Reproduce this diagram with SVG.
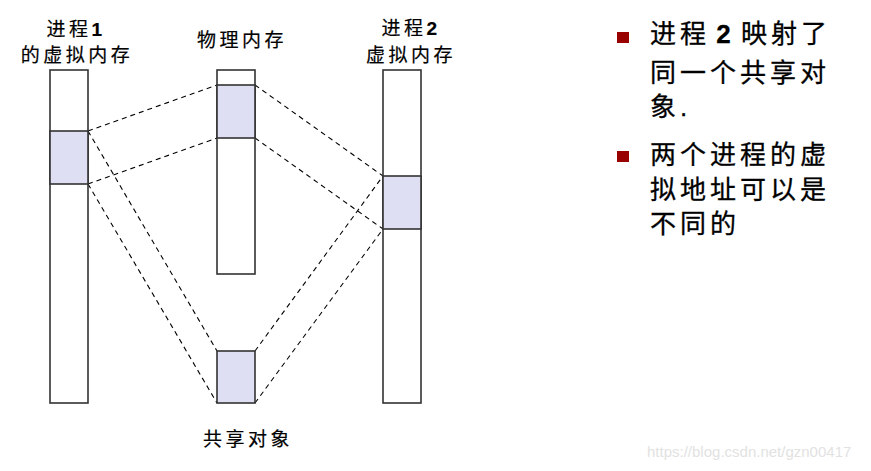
<svg xmlns="http://www.w3.org/2000/svg" width="871" height="471" viewBox="0 0 871 471">
<style>
.bar{fill:#ffffff;stroke:#333333;stroke-width:1.6}
.sh{fill:#dedff2;stroke:#333333;stroke-width:1.6}
.dl{stroke:#000000;stroke-width:1.1;stroke-dasharray:5,4;fill:none}
.lbl{font-family:"Liberation Sans","Noto Sans CJK SC",sans-serif;font-size:19px;letter-spacing:3.5px;fill:#000;stroke:#000;stroke-width:0.2;text-anchor:middle}
.bt{font-family:"Liberation Sans","Noto Sans CJK SC",sans-serif;font-size:26px;letter-spacing:4px;fill:#000;stroke:#000;stroke-width:0.3}
.blt{fill:#990000}
.wm{font-family:"Liberation Sans",Arial,sans-serif;font-size:15px;fill:#e2e2e2}
</style>
<rect width="871" height="471" fill="#ffffff"/>
<g id="connectors">
<line class="dl" x1="88" y1="131" x2="217" y2="85"/>
<line class="dl" x1="88" y1="184" x2="217" y2="138"/>
<line class="dl" x1="255" y1="85" x2="383" y2="176"/>
<line class="dl" x1="255" y1="138" x2="383" y2="229"/>
<line class="dl" x1="88" y1="131" x2="217" y2="351"/>
<line class="dl" x1="88" y1="184" x2="217" y2="403"/>
<line class="dl" x1="255" y1="351" x2="383" y2="176"/>
<line class="dl" x1="255" y1="403" x2="383" y2="229"/>
</g>
<g id="vm1">
<rect class="bar" x="50" y="70" width="38" height="333"/>
<rect class="sh" x="50" y="131" width="38" height="53"/>
<text class="lbl" x="76" y="36">进程<tspan font-weight="bold">1</tspan></text>
<text class="lbl" x="77" y="62">的虚拟内存</text>
</g>
<g id="phys">
<rect class="bar" x="217" y="70" width="38" height="204"/>
<rect class="sh" x="217" y="85" width="38" height="53"/>
<text class="lbl" x="242" y="47">物理内存</text>
</g>
<g id="vm2">
<rect class="bar" x="383" y="70" width="38" height="333"/>
<rect class="sh" x="383" y="176" width="38" height="53"/>
<text class="lbl" x="411" y="35">进程<tspan font-weight="bold">2</tspan></text>
<text class="lbl" x="411" y="62">虚拟内存</text>
</g>
<g id="shared">
<rect class="sh" x="217" y="351" width="38" height="52"/>
<text class="lbl" x="248" y="446">共享对象</text>
</g>
<g id="notes">
<rect class="blt" x="617" y="32" width="12" height="11"/>
<text class="bt" x="650" y="43" word-spacing="-5">进程 <tspan font-weight="bold">2</tspan> 映射了</text>
<text class="bt" x="650" y="82">同一个共享对</text>
<text class="bt" x="650" y="116">象.</text>
<rect class="blt" x="617" y="151" width="12" height="11"/>
<text class="bt" x="650" y="164">两个进程的虚</text>
<text class="bt" x="650" y="199">拟地址可以是</text>
<text class="bt" x="650" y="233">不同的</text>
</g>
<text class="wm" x="647" y="457">https://blog.csdn.net/gzn00417</text>
</svg>
